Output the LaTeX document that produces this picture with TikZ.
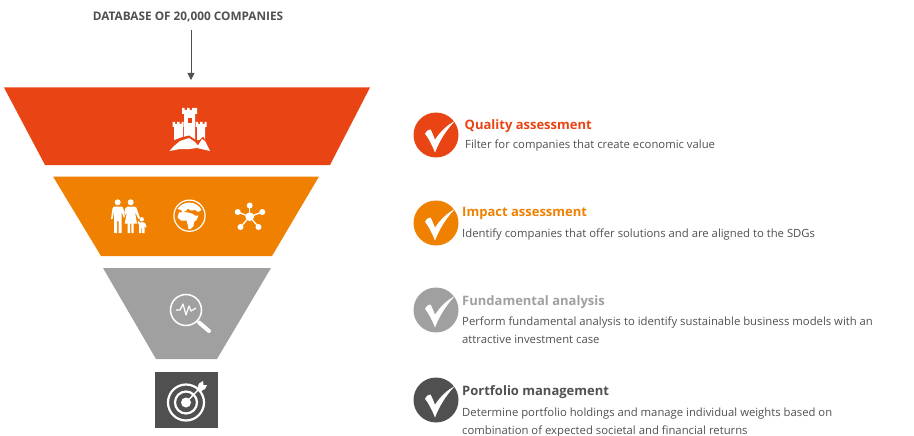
\documentclass[tikz,border=0pt]{standalone}
\usepackage{fontspec}
\setmainfont{Open Sans}
\usetikzlibrary{arrows.meta}
\definecolor{cred}{HTML}{E94414}
\definecolor{corange}{HTML}{F08000}
\definecolor{cgray}{HTML}{A0A0A0}
\definecolor{cdark}{HTML}{505050}
\definecolor{ctext}{HTML}{505050}
\newcommand{\mytick}[3]{%
 \fill[#3] (#1,#2) circle[radius=22.5];
 \fill[white] (#1-11,#2-1.3) .. controls (#1-9,#2-4.5) and (#1-7.5,#2-5.5) .. (#1-5.5,#2-5.5)
   .. controls (#1-4,#2-3) and (#1-2.5,#2+1) .. (#1-1,#2+4.7)
   .. controls (#1+4,#2-3) and (#1+11,#2-10) .. (#1+19,#2-14)
   .. controls (#1+10,#2-5) and (#1+3,#2+7) .. (#1-1,#2+17.5)
   .. controls (#1-4,#2+10) and (#1-7,#2+4) .. (#1-11,#2-1.3) -- cycle;}
\tikzset{
 head/.style={anchor=base west,inner sep=0pt,font=\fontsize{13}{15}\selectfont\bfseries},
 body/.style={anchor=base west,inner sep=0pt,text=ctext,font=\fontsize{11.3}{13}\selectfont},
 ico/.style={white},
}
\begin{document}
\begin{tikzpicture}[x=1pt,y=-1pt]
\useasboundingbox (0,0) rectangle (914,436);
% title and arrow
\node[anchor=base,inner sep=0pt,text=ctext,font=\fontsize{11.8}{14}\selectfont\bfseries] (title) at (188,20.5) {DATABASE OF 20,000 COMPANIES};
\coordinate (arrowstart) at (191,30);
\coordinate (arrowend) at (191,80);
\draw[-{Triangle[length=7pt,width=7pt]},line width=0.9pt,draw=cdark,fill=cdark] (arrowstart) -- (arrowend);
% funnel
\fill[cred] (4,87.5) -- (370,87.5) -- (330,165) -- (45,165) -- cycle;
\fill[corange] (53,176.5) -- (319,176.5) -- (272,256) -- (101,256) -- cycle;
\fill[cgray] (103,268) -- (271,268) -- (217,359) -- (156,359) -- cycle;
\fill[cdark] (155,371.5) rectangle (218,428);
% castle
\fill[ico] (182,108) -- (184.5,108) -- (184.5,110) -- (187,110) -- (187,108) -- (189.5,108) -- (189.5,110) -- (192,110) -- (192,108) -- (197,108) -- (197,114) -- (195,114) -- (195,142) -- (184,142) -- (184,114) -- (182,114) -- cycle;
\fill[cred] (188,118) rectangle (191.5,123);
\fill[ico] (172.5,122) -- (175,122) -- (175,124) -- (177,124) -- (177,122) -- (179.5,122) -- (179.5,124) -- (181.5,124) -- (181.5,122) -- (183.5,122) -- (183.5,127) -- (183,127) -- (183,143) -- (174,143) -- (174,127) -- (172.5,127) -- cycle;
\fill[ico] (195.7,122) -- (198,122) -- (198,124) -- (200,124) -- (200,122) -- (202.5,122) -- (202.5,124) -- (204.5,124) -- (204.5,122) -- (206.7,122) -- (206.7,127) -- (205,127) -- (205,140) -- (197,140) -- (197,127) -- (195.7,127) -- cycle;
\fill[cred] (172,141) -- (181,137.5) -- (189,135.5) -- (198,141.5) -- (203,136.5) -- (212,150) -- (172,150) -- cycle;
\fill[ico] (169.5,151) -- (174,146) -- (180,141) -- (189,138) -- (195,142) -- (198,145.5) -- (202,139) -- (205,141) -- (210,151) -- (197,148) -- (189,149) -- (180,149) -- cycle;
% family
\fill[ico] (117.7,202.3) circle[radius=3];
\fill[ico] (130.7,202.3) circle[radius=3];
\fill[ico] (141.7,219.3) circle[radius=2.2];
\fill[ico] (111,219) -- (112.5,208.5) .. controls (113,207) and (114,206.5) .. (115,206.5) -- (120.5,206.5) .. controls (122,206.5) and (123,207) .. (123.5,209) -- (125,217) -- (123.7,217.5) -- (121.7,212) -- (121.7,233) -- (118.7,233) -- (118.7,221) -- (117,221) -- (117,233) -- (114,233) -- (114,212) -- (112.5,219) -- cycle;
\fill[ico] (124.2,213) -- (125.5,208) .. controls (126,207) and (127,206.5) .. (128,206.5) -- (133.5,206.5) .. controls (135,206.5) and (136,207) .. (136.5,208) -- (140,218) -- (138.5,218.8) -- (135,212) -- (137,223.5) -- (133.7,223.5) -- (133.7,233) -- (131.3,233) -- (131.3,223.5) -- (130,223.5) -- (130,233) -- (127.7,233) -- (127.7,223.5) -- (124.7,223.5) -- (127,212) -- (125.5,215) -- cycle;
\fill[ico] (137.5,222) -- (138.7,221) -- (140,222.3) -- (143.5,222.3) .. controls (145,222.5) and (146,224) .. (146.5,227) -- (145.3,227.5) -- (144.7,225.5) -- (144.7,233) -- (142,233) -- (142,228) -- (141.4,228) -- (141.4,233) -- (139.2,233) -- (139.2,225.5) -- cycle;
% globe
\draw[ico,line width=1.2pt] (189.5,215.7) circle[radius=15.6];
\fill[ico] (177.5,209) .. controls (180,205) and (185,202.5) .. (189,202.5) .. controls (196,202.5) and (200,207) .. (201.5,210) -- (198,212) -- (195,210) -- (190.5,210.5) -- (188,208.5) -- (186,211) -- (182.5,212) -- (181,210) -- cycle;
\fill[ico] (179,212.5) -- (184,212) -- (188,212.5) -- (192,213.5) -- (195,215.5) -- (198.5,215.5) -- (196.5,220) -- (194,222) -- (193.5,226) -- (190.5,229) -- (188.5,229) -- (187.5,224) -- (186.5,220.5) -- (181,220.5) -- (177.5,217.5) -- cycle;
% network
\foreach \px/\py in {249.7/205.5,237.7/212,262.3/212,240.5/227,258.5/227}{
  \draw[ico,line width=1.3pt] (249.7,216.7) -- (\px,\py);
  \fill[ico] (\px,\py) circle[radius=3];
}
\fill[ico] (249.7,216.7) circle[radius=4.3];
% magnifier
\draw[ico,line width=1.5pt] (186,310) circle[radius=15.5];
\draw[ico,line width=4pt,line cap=round] (199,322.5) -- (209,331);
\draw[ico,line width=1.2pt,line join=round] (176,310) -- (180,310) -- (183,304) -- (186,315) -- (189,306) -- (191,311) -- (196,308);
% target
\draw[ico,line width=2.2pt] (186,402.5) circle[radius=18];
\draw[ico,line width=2.2pt] (186,402.5) circle[radius=11];
\fill[ico] (186,402.5) circle[radius=5];
\draw[ico,line width=1.5pt] (186,402.5) -- (200,388);
\fill[ico] (197,389) -- (199,383.5) -- (203,381) -- (203.5,385) -- (207,385) -- (205,389) -- (199.5,392) -- cycle;
\fill[cdark] (196,391.5) circle[radius=0.1];
% checks
\mytick{436}{135}{cred}
\mytick{436}{223}{corange}
\mytick{436}{310}{cgray}
\mytick{436}{400}{cdark}
% texts
\node[head,text=cred] (h1) at (464.5,129) {Quality assessment};
\node[body] (b1) at (465,149) {Filter for companies that create economic value};
\node[head,text=corange] (h2) at (462,216) {Impact assessment};
\node[body] (b2) at (462,237) {Identify companies that offer solutions and are aligned to the SDGs};
\node[head,text=cgray] (h3) at (462,305) {Fundamental analysis};
\node[body] (b3) at (462,325) {Perform fundamental analysis to identify sustainable business models with an};
\node[body] (b3b) at (462,343) {attractive investment case};
\node[head,text=cdark] (h4) at (462,395) {Portfolio management};
\node[body] (b4) at (462,416) {Determine portfolio holdings and manage individual weights based on};
\node[body] (b4b) at (462,434) {combination of expected societal and financial returns};
\end{tikzpicture}
\end{document}
